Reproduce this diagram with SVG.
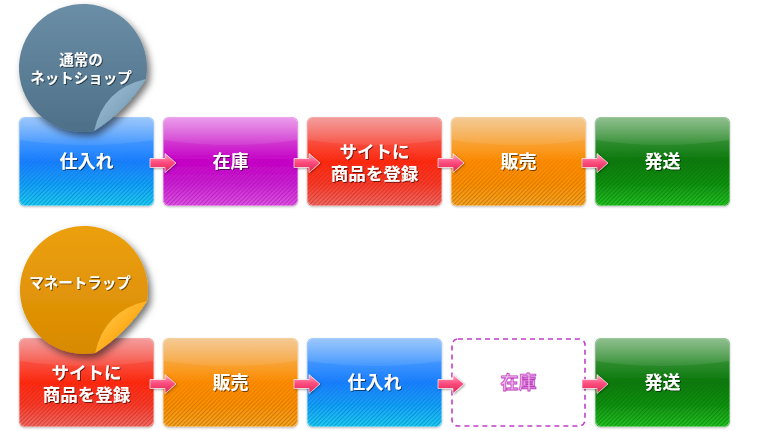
<svg xmlns="http://www.w3.org/2000/svg" xmlns:xlink="http://www.w3.org/1999/xlink" width="765" height="431" viewBox="0 0 765 431">
<style>
.lbl{font-family:"Noto Sans CJK JP","Noto Sans",sans-serif;font-weight:bold;font-size:18px;fill:#fff;text-anchor:middle;filter:url(#tsh)}
.lbl2{font-family:"Noto Sans CJK JP","Noto Sans",sans-serif;font-weight:bold;font-size:17.5px;fill:#fff;text-anchor:middle;filter:url(#tsh)}
.stk{font-family:"Noto Sans CJK JP","Noto Sans",sans-serif;font-weight:bold;font-size:14.5px;fill:#fff;text-anchor:middle;filter:url(#tsh)}
.gloss{fill:url(#gGloss)}
.str{fill:url(#stripes)}
.edge{fill:none;stroke:#fff;stroke-opacity:0.35;stroke-width:1}
.dlbl{font-family:"Noto Sans CJK JP","Noto Sans",sans-serif;font-weight:bold;font-size:18px;fill:#f4c0f4;stroke:#c040c0;stroke-width:0.8;text-anchor:middle}
</style>
<defs>
<filter id="tsh" x="-20%" y="-20%" width="140%" height="160%"><feDropShadow dx="1" dy="1" stdDeviation="0.7" flood-color="#000" flood-opacity="0.55"/></filter>
<filter id="bsh" x="-5%" y="-5%" width="110%" height="115%"><feDropShadow dx="0" dy="1" stdDeviation="1" flood-color="#000" flood-opacity="0.25"/></filter>
<filter id="ssh" x="-20%" y="-20%" width="150%" height="150%"><feDropShadow dx="3" dy="4" stdDeviation="3.5" flood-color="#000" flood-opacity="0.55"/></filter>
<filter id="ash" x="-20%" y="-30%" width="150%" height="170%"><feDropShadow dx="1" dy="1" stdDeviation="0.8" flood-color="#000" flood-opacity="0.35"/></filter>
<linearGradient id="gBlue" x1="0" y1="0" x2="0" y2="1"><stop offset="0" stop-color="#7ab4fa"/><stop offset="0.3" stop-color="#3a92ff"/><stop offset="0.5" stop-color="#1a80ff"/><stop offset="0.75" stop-color="#12a2ff"/><stop offset="1" stop-color="#1ad2ff"/></linearGradient>
<linearGradient id="gMag" x1="0" y1="0" x2="0" y2="1"><stop offset="0" stop-color="#e47ae4"/><stop offset="0.3" stop-color="#d032d0"/><stop offset="0.5" stop-color="#c800c8"/><stop offset="0.75" stop-color="#d020d8"/><stop offset="1" stop-color="#ea50f0"/></linearGradient>
<linearGradient id="gRed" x1="0" y1="0" x2="0" y2="1"><stop offset="0" stop-color="#f07c7c"/><stop offset="0.3" stop-color="#f84a3a"/><stop offset="0.5" stop-color="#ff2a10"/><stop offset="0.75" stop-color="#ff3a28"/><stop offset="1" stop-color="#ff6a62"/></linearGradient>
<linearGradient id="gOra" x1="0" y1="0" x2="0" y2="1"><stop offset="0" stop-color="#f0b870"/><stop offset="0.3" stop-color="#f8a030"/><stop offset="0.5" stop-color="#ff8c00"/><stop offset="0.75" stop-color="#ff9000"/><stop offset="1" stop-color="#ffa820"/></linearGradient>
<linearGradient id="gGrn" x1="0" y1="0" x2="0" y2="1"><stop offset="0" stop-color="#6aaa6a"/><stop offset="0.3" stop-color="#2a8a2a"/><stop offset="0.5" stop-color="#0a7a0a"/><stop offset="0.75" stop-color="#109410"/><stop offset="1" stop-color="#22c822"/></linearGradient>
<linearGradient id="gGloss" x1="0" y1="0" x2="0" y2="1"><stop offset="0" stop-color="#fff" stop-opacity="0.25"/><stop offset="1" stop-color="#fff" stop-opacity="0.07"/></linearGradient>
<linearGradient id="gFade" x1="0" y1="0" x2="0" y2="1"><stop offset="0" stop-color="#fff" stop-opacity="0"/><stop offset="1" stop-color="#fff" stop-opacity="1"/></linearGradient>
<mask id="fade" maskContentUnits="objectBoundingBox"><rect x="0" y="0" width="1" height="1" fill="url(#gFade)"/></mask>
<pattern id="stripes" width="3" height="3" patternUnits="userSpaceOnUse" patternTransform="rotate(45)"><rect x="0" y="0" width="1.2" height="3" fill="#000" fill-opacity="0.25"/></pattern>
<linearGradient id="gArrow" x1="0" y1="0" x2="0" y2="1"><stop offset="0" stop-color="#ffb0ca"/><stop offset="0.45" stop-color="#ff5080"/><stop offset="1" stop-color="#d82050"/></linearGradient>
<path id="arrow" d="M0,-4.5 H15 V-9.5 L26,0 L15,9.5 V4.5 H0 Z" fill="url(#gArrow)" stroke="#fff" stroke-opacity="0.8" stroke-width="0.8"/>
<linearGradient id="gSt1" x1="0" y1="0" x2="0" y2="1"><stop offset="0" stop-color="#6a8ea6"/><stop offset="1" stop-color="#4e7088"/></linearGradient>
<linearGradient id="gSt2" x1="0" y1="0" x2="0" y2="1"><stop offset="0" stop-color="#eca010"/><stop offset="1" stop-color="#d88a00"/></linearGradient>
<linearGradient id="gFl1" x1="0" y1="0" x2="1" y2="1"><stop offset="0" stop-color="#a6c6dc"/><stop offset="0.5" stop-color="#86aac2"/><stop offset="1" stop-color="#5a7e96"/></linearGradient>
<linearGradient id="gFl2" x1="0" y1="0" x2="1" y2="1"><stop offset="0" stop-color="#ffd060"/><stop offset="0.5" stop-color="#ffb020"/><stop offset="1" stop-color="#d88800"/></linearGradient>
</defs>
<rect width="765" height="431" fill="#fff"/>

<!-- Row 1 -->
<g id="r1-shiire" filter="url(#bsh)">
<rect x="19" y="117" width="135" height="89" rx="6" fill="url(#gBlue)"/>
<path class="gloss" d="M20,123 Q20,118 25,118 H148 Q153,118 153,123 V140 Q86.5,150 20,140 Z"/>
<rect class="str" x="19" y="150" width="135" height="56" rx="6" mask="url(#fade)"/>
<rect class="edge" x="19.5" y="117.5" width="134" height="88" rx="6"/>
<text class="lbl" x="86.5" y="168">仕入れ</text>
</g>
<g id="r1-zaiko" filter="url(#bsh)">
<rect x="163" y="117" width="135" height="89" rx="6" fill="url(#gMag)"/>
<path class="gloss" d="M164,123 Q164,118 169,118 H292 Q297,118 297,123 V140 Q230.5,150 164,140 Z"/>
<rect class="str" x="163" y="150" width="135" height="56" rx="6" mask="url(#fade)"/>
<rect class="edge" x="163.5" y="117.5" width="134" height="88" rx="6"/>
<text class="lbl" x="230.5" y="168">在庫</text>
</g>
<g id="r1-site" filter="url(#bsh)">
<rect x="307" y="117" width="135" height="89" rx="6" fill="url(#gRed)"/>
<path class="gloss" d="M308,123 Q308,118 313,118 H436 Q441,118 441,123 V140 Q374.5,150 308,140 Z"/>
<rect class="str" x="307" y="150" width="135" height="56" rx="6" mask="url(#fade)"/>
<rect class="edge" x="307.5" y="117.5" width="134" height="88" rx="6"/>
<text class="lbl2" x="374.5" y="158">サイトに</text>
<text class="lbl2" x="374.5" y="180">商品を登録</text>
</g>
<g id="r1-hanbai" filter="url(#bsh)">
<rect x="451" y="117" width="135" height="89" rx="6" fill="url(#gOra)"/>
<path class="gloss" d="M452,123 Q452,118 457,118 H580 Q585,118 585,123 V140 Q518.5,150 452,140 Z"/>
<rect class="str" x="451" y="150" width="135" height="56" rx="6" mask="url(#fade)"/>
<rect class="edge" x="451.5" y="117.5" width="134" height="88" rx="6"/>
<text class="lbl" x="518.5" y="168">販売</text>
</g>
<g id="r1-hassou" filter="url(#bsh)">
<rect x="595" y="117" width="135" height="89" rx="6" fill="url(#gGrn)"/>
<path class="gloss" d="M596,123 Q596,118 601,118 H724 Q729,118 729,123 V140 Q662.5,150 596,140 Z"/>
<rect class="str" x="595" y="150" width="135" height="56" rx="6" mask="url(#fade)"/>
<rect class="edge" x="595.5" y="117.5" width="134" height="88" rx="6"/>
<text class="lbl" x="662.5" y="168">発送</text>
</g>

<!-- Row 2 -->
<g id="r2-site" filter="url(#bsh)">
<rect x="19" y="338" width="135" height="89" rx="6" fill="url(#gRed)"/>
<path class="gloss" d="M20,344 Q20,339 25,339 H148 Q153,339 153,344 V361 Q86.5,371 20,361 Z"/>
<rect class="str" x="19" y="371" width="135" height="56" rx="6" mask="url(#fade)"/>
<rect class="edge" x="19.5" y="338.5" width="134" height="88" rx="6"/>
<text class="lbl2" x="86.5" y="379">サイトに</text>
<text class="lbl2" x="86.5" y="401">商品を登録</text>
</g>
<g id="r2-hanbai" filter="url(#bsh)">
<rect x="163" y="338" width="135" height="89" rx="6" fill="url(#gOra)"/>
<path class="gloss" d="M164,344 Q164,339 169,339 H292 Q297,339 297,344 V361 Q230.5,371 164,361 Z"/>
<rect class="str" x="163" y="371" width="135" height="56" rx="6" mask="url(#fade)"/>
<rect class="edge" x="163.5" y="338.5" width="134" height="88" rx="6"/>
<text class="lbl" x="230.5" y="389">販売</text>
</g>
<g id="r2-shiire" filter="url(#bsh)">
<rect x="307" y="338" width="135" height="89" rx="6" fill="url(#gBlue)"/>
<path class="gloss" d="M308,344 Q308,339 313,339 H436 Q441,339 441,344 V361 Q374.5,371 308,361 Z"/>
<rect class="str" x="307" y="371" width="135" height="56" rx="6" mask="url(#fade)"/>
<rect class="edge" x="307.5" y="338.5" width="134" height="88" rx="6"/>
<text class="lbl" x="374.5" y="389">仕入れ</text>
</g>
<g id="r2-zaiko">
<rect x="452" y="339" width="133" height="87" rx="6" fill="#fff" stroke="#c040c8" stroke-width="1.6" stroke-dasharray="5,4"/>
<text class="dlbl" x="518.5" y="389">在庫</text>
</g>
<g id="r2-hassou" filter="url(#bsh)">
<rect x="595" y="338" width="135" height="89" rx="6" fill="url(#gGrn)"/>
<path class="gloss" d="M596,344 Q596,339 601,339 H724 Q729,339 729,344 V361 Q662.5,371 596,361 Z"/>
<rect class="str" x="595" y="371" width="135" height="56" rx="6" mask="url(#fade)"/>
<rect class="edge" x="595.5" y="338.5" width="134" height="88" rx="6"/>
<text class="lbl" x="662.5" y="389">発送</text>
</g>

<!-- Connectors -->
<g id="connectors" filter="url(#ash)">
<use xlink:href="#arrow" transform="translate(150,163)"/>
<use xlink:href="#arrow" transform="translate(294,163)"/>
<use xlink:href="#arrow" transform="translate(438,163)"/>
<use xlink:href="#arrow" transform="translate(582,163)"/>
<use xlink:href="#arrow" transform="translate(150,384)"/>
<use xlink:href="#arrow" transform="translate(294,384)"/>
<use xlink:href="#arrow" transform="translate(438,384)"/>
<use xlink:href="#arrow" transform="translate(582,384)"/>
</g>

<!-- Stickers -->
<g id="sticker-normal">
<g filter="url(#ssh)">
<path d="M146,79 A64,64 0 1 0 94.1,131 Q126,111 146,79 Z" fill="url(#gSt1)"/>
<path d="M146,79 Q103.5,88.5 94.1,131 Q126,111 146,79 Z" fill="url(#gFl1)"/>
</g>
<text class="stk" x="81" y="65">通常の</text>
<text class="stk" x="81" y="83">ネットショップ</text>
</g>
<g id="sticker-money">
<g filter="url(#ssh)">
<path d="M147,301 A64,64 0 1 0 95.1,353 Q127,333 147,301 Z" fill="url(#gSt2)"/>
<path d="M147,301 Q104.5,310.5 95.1,353 Q127,333 147,301 Z" fill="url(#gFl2)"/>
</g>
<text class="stk" x="80" y="288">マネートラップ</text>
</g>
</svg>
